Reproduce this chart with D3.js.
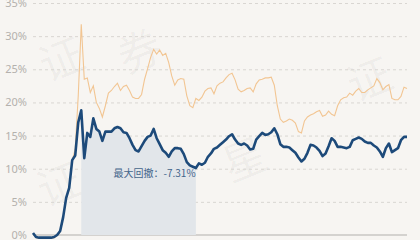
<!DOCTYPE html>
<html lang="zh">
<head>
<meta charset="utf-8">
<script src="https://d3js.org/d3.v7.min.js"></script>
<style>
    body { margin: 0; background: #f7f5f2; }
    svg { display: block; font-family: "Noto Sans CJK SC", "Noto Sans", sans-serif; }
</style>
</head>
<body>
<div id="chart"></div>
<script>
    // cumulative return, %, one value per sample
    var fundValues = [
        0.3, -0.3, -0.4, -0.4, -0.4, -0.4, -0.4, -0.3, 0.0, 0.6,
        2.7, 5.6, 7.1, 11.3, 12.0, 17.0, 18.8, 11.6, 15.4, 14.8,
        17.6, 16.0, 15.6, 14.2, 15.6, 15.6, 15.6, 16.1, 16.3, 16.1,
        15.5, 15.4, 14.6, 13.6, 12.8, 12.6, 13.4, 14.2, 14.8, 15.0,
        16.0, 14.6, 13.7, 12.8, 12.4, 11.8, 12.6, 13.1, 13.1, 13.0,
        12.2, 11.0, 10.5, 10.3, 10.1, 10.8, 10.6, 10.9, 11.8, 12.3,
        13.0, 13.2, 13.6, 14.0, 14.4, 14.9, 15.2, 14.4, 13.8, 13.6,
        13.8, 13.5, 12.9, 13.0, 14.4, 14.9, 15.4, 15.1, 15.2, 15.5,
        16.1, 15.2, 13.7, 13.3, 13.3, 13.2, 12.8, 12.4, 11.7, 11.1,
        11.5, 12.4, 13.6, 13.5, 13.2, 12.7, 11.9, 12.3, 13.4, 14.6,
        14.2, 13.3, 13.3, 13.2, 13.1, 13.3, 14.3, 14.5, 14.7, 14.5,
        14.1, 13.9, 13.9, 13.5, 13.2, 12.6, 11.8, 13.1, 13.8, 12.5,
        12.8, 13.1, 14.3, 14.8, 14.8
    ];
    var benchValues = [
        0.2, -0.4, -0.5, -0.5, -0.5, -0.5, -0.5, -0.4, -0.1, 0.5,
        2.6, 5.5, 7.0, 11.2, 13.0, 21.0, 31.8, 23.5, 23.7, 21.5,
        22.5, 20.0, 19.1, 17.8, 19.5, 21.4, 21.8, 22.4, 22.9, 21.8,
        22.4, 22.6, 21.8, 20.8, 20.6, 20.6, 21.2, 23.5, 25.1, 26.8,
        28.0, 27.3, 27.9, 27.1, 27.4, 26.0, 24.0, 22.6, 23.4, 23.6,
        23.5, 21.0, 19.5, 19.2, 20.6, 20.3, 20.8, 21.7, 22.1, 22.2,
        21.3, 22.5, 22.9, 23.1, 23.7, 24.2, 24.4, 23.4, 22.0, 21.6,
        21.8, 22.1, 22.2, 21.6, 22.8, 23.4, 23.5, 23.7, 23.7, 23.8,
        22.6, 19.5, 17.5, 17.0, 17.2, 17.5, 17.3, 16.9, 15.6, 15.4,
        17.2, 17.8, 18.1, 18.3, 18.6, 18.8, 17.9, 18.1, 18.7, 18.2,
        18.0, 19.5, 20.4, 20.7, 20.8, 21.4, 21.1, 21.7, 22.1, 21.5,
        21.5, 21.9, 22.2, 22.5, 23.6, 23.0, 21.9, 22.4, 22.7, 20.6,
        20.4, 20.4, 20.9, 22.3, 22.1
    ];
    var yTicks = [0, 5, 10, 15, 20, 25, 30, 35];
    var drawdownLabel = "最大回撤：-7.31%";
    var watermarkChars = ["证", "券", "星", "证", "证", "券"];

    var width = 420, height = 240;

    var svg = d3.select("#chart").append("svg")
        .attr("width", width)
        .attr("height", height);

    svg.append("rect")
        .attr("width", width).attr("height", height)
        .attr("fill", "#f7f5f2");

    var x = d3.scaleLinear()
        .domain([0, fundValues.length - 1])
        .range([33, 407]);
    var y = d3.scaleLinear()
        .domain([0, 35])
        .range([235, 3]);

    // faint watermark, one glyph each, kept clear of the edges
    var wmPos = [[62, 60], [140, 52], [245, 160], [370, 80], [60, 185], [138, 188]];
    svg.append("g")
        .attr("fill", "#000")
        .attr("fill-opacity", 0.04)
        .style("font-size", "44px")
        .style("font-family", "Noto Sans CJK SC")
        .attr("text-anchor", "middle")
        .selectAll("text")
        .data(watermarkChars)
        .join("text")
        .attr("transform", function (d, i) {
            return "translate(" + wmPos[i][0] + "," + wmPos[i][1] + ") rotate(-22)";
        })
        .attr("dy", "0.35em")
        .text(function (d) { return d; });

    // grid + y labels
    var yAxis = svg.append("g")
        .attr("transform", "translate(33,0)")
        .call(d3.axisLeft(y).tickValues(yTicks)
            .tickSize(-374)
            .tickPadding(6)
            .tickFormat(function (d) { return d + "%"; }));
    yAxis.select(".domain").remove();
    yAxis.selectAll(".tick line")
        .attr("stroke", "#d9d6d2")
        .attr("stroke-dasharray", "3,3");
    yAxis.selectAll(".tick text")
        .attr("fill", "#b4b1ad")
        .style("font-size", "11px")
        .style("font-family", "Noto Sans, sans-serif");

    // baseline
    svg.append("line")
        .attr("x1", x(0)).attr("x2", x(fundValues.length - 1))
        .attr("y1", y(0)).attr("y2", y(0))
        .attr("stroke", "#d4d2cf")
        .attr("stroke-width", 2);

    // max drawdown region: from peak to trough
    var peakIdx = d3.maxIndex(fundValues.slice(0, 60));
    var troughIdx = peakIdx + d3.minIndex(fundValues.slice(peakIdx, 60));
    var ddPoints = d3.range(peakIdx, troughIdx + 1);

    svg.append("path")
        .datum(ddPoints)
        .attr("fill", "#e2e6ea")
        .attr("d", d3.area()
            .x(function (i) { return x(i); })
            .y0(y(0))
            .y1(function (i) { return y(fundValues[i]); }));

    var line = d3.line()
        .x(function (d, i) { return x(i); })
        .y(function (d) { return y(d); });

    svg.append("path")
        .datum(benchValues)
        .attr("fill", "none")
        .attr("stroke", "#f2c592")
        .attr("stroke-width", 1.1)
        .attr("d", line);

    svg.append("path")
        .datum(fundValues)
        .attr("fill", "none")
        .attr("stroke", "#1d4a7a")
        .attr("stroke-width", 2.6)
        .attr("stroke-linejoin", "round")
        .attr("d", line);

    svg.append("text")
        .attr("x", (x(peakIdx) + x(troughIdx)) / 2 + 16)
        .attr("y", 177)
        .attr("text-anchor", "middle")
        .attr("fill", "#44658a")
        .style("font-size", "10px")
        .text(drawdownLabel);
</script>
</body>
</html>
